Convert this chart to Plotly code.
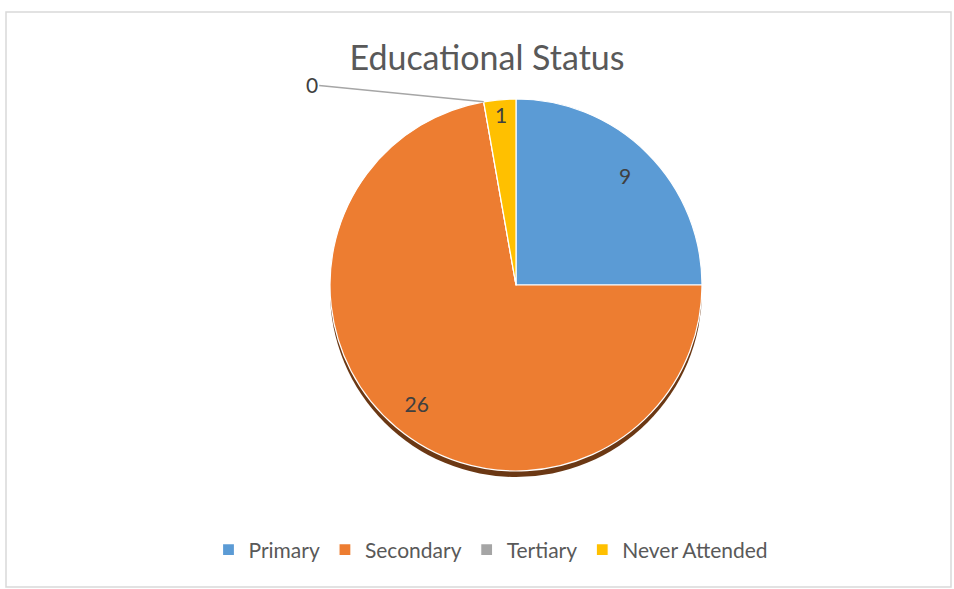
import math
import plotly.graph_objects as go

# ---- data ----
categories = ["Primary", "Secondary", "Tertiary", "Never Attended"]
counts = [9, 26, 0, 1]
colors = ["#5B9BD5", "#ED7D31", "#A5A5A5", "#FFC000"]
title_text = "Educational Status"

W, H = 954, 589
# pie geometry in pixels
cx, cy, R = 516, 285, 186
dom_x = [(cx - R) / W, (cx + R) / W]
dom_y = [1 - (cy + R) / H, 1 - (cy - R) / H]
shadow_dy = 6
dom_y_shadow = [1 - (cy + R + shadow_dy) / H, 1 - (cy - R + shadow_dy) / H]

fig = go.Figure()

# shadow
fig.add_trace(go.Pie(
    labels=["_shadow"], values=[1], domain=dict(x=dom_x, y=dom_y_shadow),
    marker=dict(colors=["#6b3814"], line=dict(width=0)),
    textinfo="none", hoverinfo="skip", showlegend=False, sort=False,
))

# main pie
fig.add_trace(go.Pie(
    labels=categories, values=counts, domain=dict(x=dom_x, y=dom_y),
    marker=dict(colors=colors, line=dict(color="white", width=1.2)),
    textinfo="none", sort=False, direction="clockwise", rotation=0,
    hoverinfo="label+value",
))

# transparent ring carrying the data labels near the rim
fig.add_trace(go.Pie(
    labels=categories, values=counts, domain=dict(x=dom_x, y=dom_y),
    hole=0.66,
    marker=dict(colors=["rgba(0,0,0,0)"] * len(categories), line=dict(width=0)),
    texttemplate="%{value}", textposition="inside",
    insidetextorientation="horizontal",
    textfont=dict(family="Lato", size=21, color="#404040"),
    sort=False, direction="clockwise", rotation=0,
    showlegend=False, hoverinfo="skip",
))

# leader label for the zero slice
total = sum(counts)
cum = sum(counts[:2])
theta = 2 * math.pi * cum / total
tipx = (cx + R * math.sin(theta)) / W
tipy = 1 - (cy - R * math.cos(theta)) / H
fig.add_annotation(
    x=tipx, y=tipy, xref="paper", yref="paper",
    text=str(counts[2]), showarrow=True, arrowhead=0, arrowwidth=1.5,
    arrowcolor="#A6A6A6", ax=-172, ay=-17,
    font=dict(family="Lato", size=21, color="#404040"),
)

fig.update_layout(
    width=W, height=H, autosize=False,
    margin=dict(l=0, r=0, t=0, b=0),
    paper_bgcolor="white", plot_bgcolor="white",
    title=dict(text=title_text, x=487 / W, xanchor="center", xref="paper",
               y=1 - 58 / H, yanchor="middle", yref="paper",
               font=dict(family="Lato", size=34, color="#595959")),
    legend=dict(orientation="h", x=491 / W, xanchor="center",
                y=1 - 550 / H, yanchor="middle", itemwidth=30,
                font=dict(family="Lato", size=21, color="#595959"),
                traceorder="normal"),
    shapes=[dict(type="rect", xref="paper", yref="paper",
                 x0=6 / W, x1=951 / W, y0=1 - 587 / H, y1=1 - 12 / H,
                 line=dict(color="#D9D9D9", width=1.5), fillcolor="rgba(0,0,0,0)",
                 layer="below")],
)

fig.write_html("out.html", config={"displayModeBar": False},
               post_script="document.body.style.margin='0px';document.body.style.overflow='hidden';")
